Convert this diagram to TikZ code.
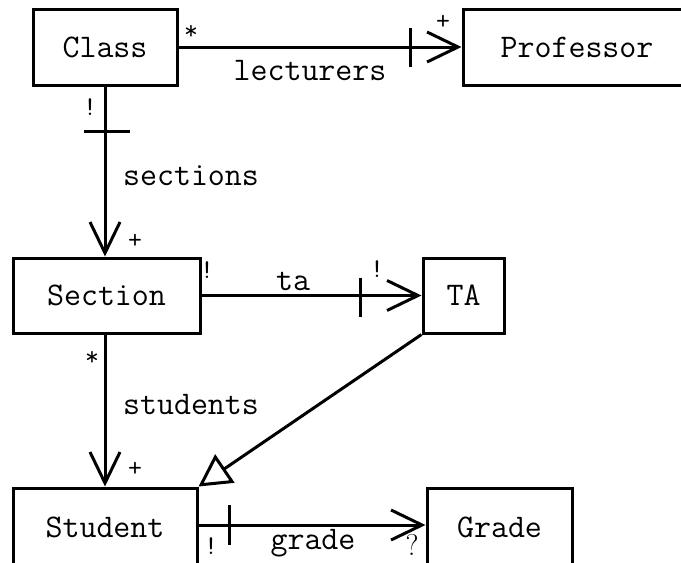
\documentclass[tikz,border=0pt]{standalone}
\usetikzlibrary{arrows.meta,calc}
\begin{document}
\begin{tikzpicture}[x=1pt,y=-1pt,
  box/.style={draw,line width=3pt,inner sep=0pt,font=\ttfamily\fontsize{33}{33}\selectfont},
  conn/.style={line width=3pt},
  lbl/.style={font=\ttfamily\fontsize{33}{33}\selectfont,inner sep=0pt},
  mult/.style={font=\ttfamily\fontsize{27}{27}\selectfont,inner sep=0pt},
  tickmark/.style={line width=3pt},
  barb/.style={-{Straight Barb[length=31pt,width=30pt]}},
  inherit/.style={-{Triangle[open,length=32pt,width=34pt,fill=white]}},
]
\useasboundingbox (0,0) rectangle (681,563);
\clip (0,0) rectangle (681,563);
% boxes
\node[box,minimum width=144pt,minimum height=76pt] (class) at (105,47) {Class};
\node[box,minimum width=228pt,minimum height=76pt] (prof) at (577,47) {Professor};
\node[box,minimum width=187pt,minimum height=75pt] (section) at (106.5,295.5) {Section};
\node[box,minimum width=81pt,minimum height=75pt] (ta) at (463.5,295.5) {TA};
\node[box,minimum width=184pt,minimum height=78pt] (student) at (105,527) {Student};
\node[box,minimum width=145pt,minimum height=78pt] (grade) at (499.5,527) {Grade};
% lecturers
\draw[conn,barb] (class.east) -- (prof.west);
\draw[tickmark] ($(prof.west)+(-51,-19)$) -- ++(0,39);
\node[mult] (m1) at (191,32) {*};
\node[mult] (m2) at (443,22) {+};
\node[lbl] (l1) at (310,71) {lecturers};
% sections
\draw[conn,barb] (class.south) -- (class.south |- section.north);
\draw[tickmark] ($(class.south)+(-21,45)$) -- ++(46,0);
\node[mult] (m3) at (90,107) {!};
\node[mult] (m4) at (135,241) {+};
\node[lbl] (l2) at (191,176) {sections};
% ta
\draw[conn,barb] (section.east) -- (ta.west);
\draw[tickmark] ($(ta.west)+(-61,-18)$) -- ++(0,39);
\node[mult] (m5) at (207,270) {!};
\node[mult] (m6) at (377,269) {!};
\node[lbl] (l3) at (293,281) {ta};
% students
\draw[conn,barb] (student.north |- section.south) -- (student.north);
\node[mult] (m7) at (92,358) {*};
\node[mult] (m8) at (135,469) {+};
\node[lbl] (l4) at (191,405) {students};
% inheritance
\draw[conn,inherit] (ta.south west) -- (student.north east);
% grade
\draw[conn,barb] (student.east |- 0,525) -- (grade.west |- 0,525);
\draw[tickmark] ($(student.east)+(31,-22)$) -- ++(0,40);
\node[mult] (m9) at (211,546) {!};
\node[lbl] (l5) at (313,543) {grade};
\node[inner sep=0pt,font=\rmfamily\fontsize{30}{30}\selectfont] (m10) at (412,545) {?};
\end{tikzpicture}
\end{document}
